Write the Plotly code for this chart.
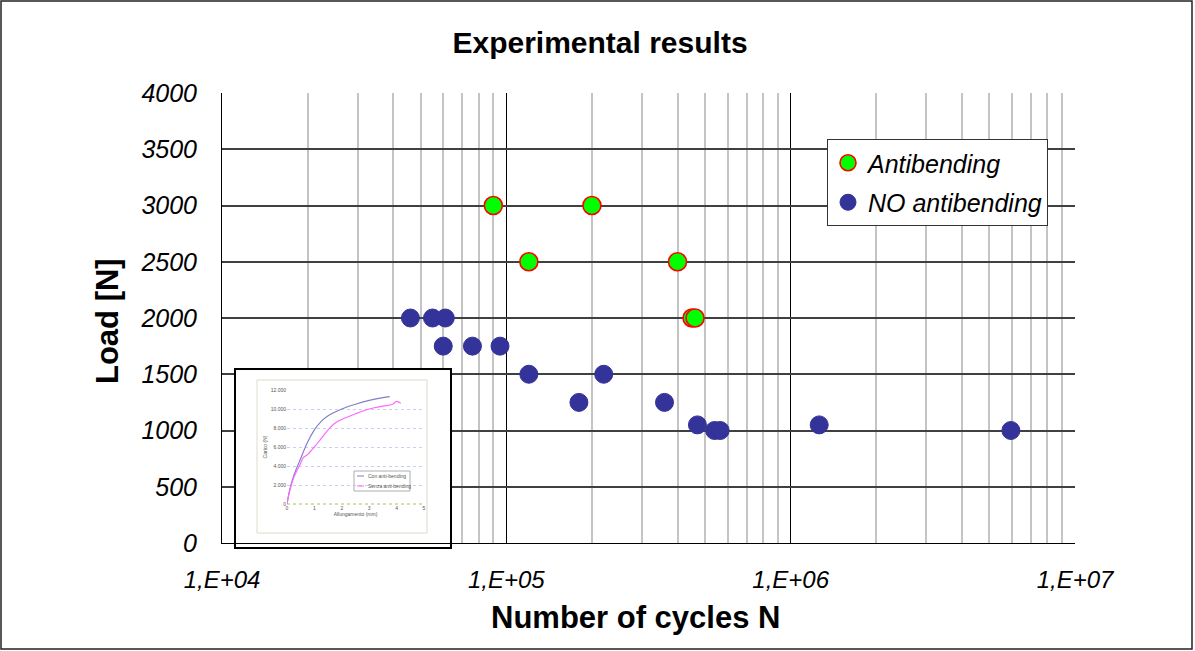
import plotly.graph_objects as go

# ---------------- data ----------------
anti_cycles = [9.0e4, 2.0e5, 1.2e5, 4.0e5, 4.5e5, 4.61e5]
anti_load = [3000, 3000, 2500, 2500, 2000, 2000]

no_cycles = [4.6e4, 5.5e4, 6.1e4, 6.0e4, 7.6e4, 9.5e4, 1.2e5, 2.2e5, 1.8e5,
             3.6e5, 4.7e5, 5.4e5, 5.65e5, 1.26e6, 5.95e6]
no_load = [2000, 2000, 2000, 1750, 1750, 1750, 1500, 1500, 1250,
           1250, 1050, 1000, 1000, 1050, 1000]

x_tickvals = [1e4, 1e5, 1e6, 1e7]
x_ticktext = ["1,E+04", "1,E+05", "1,E+06", "1,E+07"]
y_tickvals = [0, 500, 1000, 1500, 2000, 2500, 3000, 3500, 4000]

# inset (load-elongation curves)
con_x = [0, 0.1, 0.25, 0.5, 0.75, 1.0, 1.25, 1.5, 2.0, 2.5, 3.0, 3.5, 3.75]
con_y = [0, 1500, 3000, 4800, 6500, 7800, 8700, 9300, 10000, 10500, 10900, 11200, 11300]
senza_x = [0, 0.1, 0.25, 0.5, 0.6, 0.75, 1.0, 1.25, 1.5, 1.75, 2.0, 2.5, 3.0, 3.5, 3.85, 4.0, 4.15]
senza_y = [0, 1400, 2800, 4300, 4900, 5200, 6000, 6900, 7800, 8500, 8900, 9500, 10000, 10300, 10500, 10800, 10600]
inset_xticks = [0, 1, 2, 3, 4, 5]
inset_yticks = [0, 2000, 4000, 6000, 8000, 10000, 12000]
inset_yticktext = ["0", "2.000", "4.000", "6.000", "8.000", "10.000", "12.000"]
inset_names = ["Con anti-bending", "Senza anti-bending"]
inset_colors = ["#8080c8", "#ff66ff"]

# ---------------- layout geometry ----------------
W, H = 1195, 651
L, R, T, B = 222, 1075, 93, 543
PW, PH = R - L, B - T
DEC = PW / 3.0


def px(xp):
    return (xp - L) / PW


def py(yp):
    return (B - yp) / PH


def xdata(xp):
    return 10 ** (4 + (xp - L) / DEC)


def ydata(yp):
    return (B - yp) / PH * 4000


FONT = "Liberation Sans, Arial, sans-serif"
GRAY = "#555555"

fig = go.Figure()

fig.add_trace(go.Scatter(
    x=anti_cycles, y=anti_load, mode="markers", name="Antibending",
    legendgroup="a",
    marker=dict(size=18, color="#00ff00", line=dict(color="#ff0000", width=1.6)),
    xaxis="x", yaxis="y",
))
fig.add_trace(go.Scatter(
    x=no_cycles, y=no_load, mode="markers", name="NO antibending",
    legendgroup="b",
    marker=dict(size=18, color="#333399", line=dict(color="#333399", width=1)),
    xaxis="x", yaxis="y",
))

# inset
for xs, ys, nm, col in [(con_x, con_y, inset_names[0], inset_colors[0]),
                        (senza_x, senza_y, inset_names[1], inset_colors[1])]:
    fig.add_trace(go.Scatter(
        x=xs, y=ys, mode="lines", name=nm, showlegend=False,
        line=dict(color=col, width=1.2, shape="spline"),
        xaxis="x2", yaxis="y2",
    ))

minor_vals = [k * 10 ** e for e in range(4, 7) for k in range(2, 10)]

fig.update_layout(
    width=W, height=H,
    margin=dict(l=L, r=W - R, t=T, b=H - B),
    paper_bgcolor="white", plot_bgcolor="white",
    font=dict(family=FONT, color="black"),
    title=dict(text="<b>Experimental results</b>", x=600 / W, xref="container",
               y=1 - 42 / H, yref="container", xanchor="center", yanchor="middle",
               font=dict(size=30, family=FONT, color="black")),
    xaxis=dict(
        type="log", range=[4, 7], domain=[0, 1],
        tickvals=x_tickvals, ticktext=x_ticktext,
        tickfont=dict(size=24, family=FONT, style="italic"),
        ticks="", ticklabelstandoff=15,
        showgrid=True, gridcolor="#000000", gridwidth=1,
        minor=dict(tickvals=minor_vals, showgrid=True, gridcolor="#c4c4c4", gridwidth=1.5, ticks=""),
        showline=True, linecolor="#000000", linewidth=1,
        zeroline=False,
    ),
    yaxis=dict(
        range=[0, 4000], domain=[0, 1],
        tickvals=y_tickvals,
        tickfont=dict(size=25, family=FONT, style="italic"),
        ticks="", ticklabelstandoff=19,
        showgrid=True, gridcolor="#404040", gridwidth=1.5,
        showline=True, linecolor="#000000", linewidth=1,
        zeroline=False,
    ),
    xaxis2=dict(
        domain=[px(287), px(424)], anchor="y2", range=[0, 5],
        tickvals=inset_xticks, tickfont=dict(size=5, color=GRAY),
        ticks="", showgrid=False, zeroline=False, showline=False,
        title=dict(text="Allungamento (mm)", font=dict(size=5, color=GRAY), standoff=2),
    ),
    yaxis2=dict(
        domain=[py(504), py(390)], anchor="x2", range=[0, 12000],
        tickvals=inset_yticks, ticktext=inset_yticktext,
        tickfont=dict(size=5, color=GRAY),
        ticks="", showgrid=True, gridcolor="#c8d0f0", gridwidth=1, griddash="dot",
        zeroline=False, showline=False,
        title=dict(text="Carico (N)", font=dict(size=5, color=GRAY), standoff=2),
    ),
    legend=dict(
        x=px(827), y=py(139), xanchor="left", yanchor="top",
        bgcolor="white", bordercolor="#333333", borderwidth=1,
        font=dict(size=25, family=FONT, style="italic", color="black"),
        traceorder="grouped", tracegroupgap=4, itemsizing="trace",
    ),
    showlegend=True,
)

annotations = [
    dict(text="<b>Number of cycles N</b>", xref="paper", yref="paper",
         x=px(635), y=py(617), xanchor="center", yanchor="middle", showarrow=False,
         font=dict(size=31, family=FONT, color="black")),
    dict(text="<b>Load [N]</b>", xref="paper", yref="paper", textangle=-90,
         x=px(107), y=py(321), xanchor="center", yanchor="middle", showarrow=False,
         font=dict(size=31, family=FONT, color="black")),
]
# inset legend texts
for i, nm in enumerate(inset_names):
    annotations.append(dict(
        text=nm, xref="paper", yref="paper", x=px(366), y=py(476 + 10 * i),
        xanchor="left", yanchor="middle", showarrow=False,
        font=dict(size=5, family=FONT, color=GRAY)))

shapes = [
    # white background of the inset picture (above main gridlines, below traces)
    dict(type="rect", xref="x", yref="y", layer="between",
         x0=xdata(235), x1=xdata(451), y0=ydata(548), y1=ydata(369),
         fillcolor="white", line=dict(width=0)),
    # inset outline
    dict(type="rect", xref="paper", yref="paper", layer="above",
         x0=px(235), x1=px(451), y0=py(548), y1=py(369),
         fillcolor="rgba(0,0,0,0)", line=dict(color="black", width=2)),
    # inner frame of the inset chart
    dict(type="rect", xref="paper", yref="paper", layer="above",
         x0=px(257), x1=px(427), y0=py(533), y1=py(380),
         fillcolor="rgba(0,0,0,0)", line=dict(color="#dcdccc", width=1)),
    # inset zero baseline (dotted)
    dict(type="line", xref="paper", yref="paper", layer="above",
         x0=px(287), x1=px(424), y0=py(504), y1=py(504),
         line=dict(color="#b0c060", width=1, dash="dot")),
    # inset legend box
    dict(type="rect", xref="paper", yref="paper", layer="above",
         x0=px(354), x1=px(410), y0=py(491), y1=py(471),
         fillcolor="rgba(0,0,0,0)", line=dict(color="#999999", width=0.8)),
    # outer chart border
    dict(type="rect", xref="paper", yref="paper", layer="above",
         x0=px(1), x1=px(1192), y0=py(649), y1=py(1),
         fillcolor="rgba(0,0,0,0)", line=dict(color="#222222", width=1.5)),
]
for i, col in enumerate(inset_colors):
    shapes.append(dict(type="line", xref="paper", yref="paper", layer="above",
                       x0=px(357), x1=px(364), y0=py(476 + 10 * i), y1=py(476 + 10 * i),
                       line=dict(color=col, width=1)))

fig.update_layout(shapes=shapes, annotations=annotations)

fig.write_html("out.html", config={"displayModeBar": False},
               post_script="document.body.style.margin='0';")
